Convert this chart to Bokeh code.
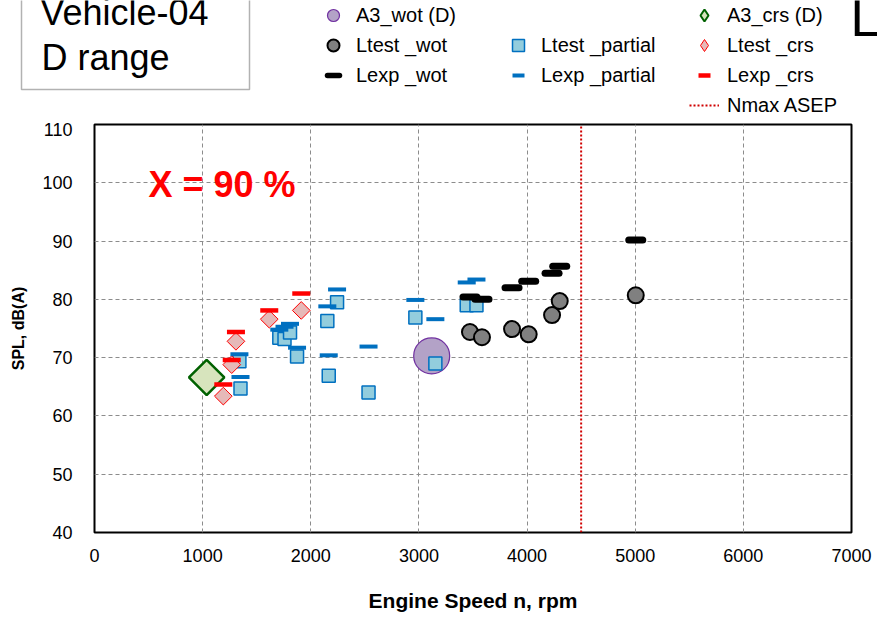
import numpy as np
from bokeh.plotting import figure
from bokeh.layouts import column
from bokeh.models import Range1d, FixedTicker, Legend, LegendItem, Label, BoxAnnotation, Plot
from bokeh.embed import file_html
from bokeh.resources import INLINE

# ---- measured values (engine speed in rpm, SPL in dB(A)) ----
rpm_a3_wot = [3118]
spl_a3_wot = [70.3]

rpm_a3_crs = [1037]
spl_a3_crs = [66.6]

rpm_wot = [3472, 3583, 3861, 4015, 4231, 4302, 5005]
ltest_wot = [74.4, 73.5, 74.9, 74.0, 77.3, 79.7, 80.7]
lexp_wot = [80.4, 80.0, 82.0, 83.1, 84.5, 85.7, 90.2]

rpm_partial = [1350, 1340, 1709, 1757, 1808, 1873, 2153, 2243, 2166, 2534, 2967, 3152, 3442, 3532]
ltest_partial = [64.7, 69.4, 73.4, 73.2, 74.3, 70.2, 76.3, 79.5, 66.9, 64.0, 76.9, 69.0, 79.0, 79.0]
lexp_partial = [66.7, 70.6, 74.8, 75.3, 75.8, 71.7, 78.8, 81.7, 70.4, 71.9, 79.9, 76.6, 82.9, 83.4]

rpm_crs = [1191, 1269, 1308, 1616, 1912]
ltest_crs = [63.4, 68.8, 72.8, 76.6, 78.1]
lexp_crs = [65.4, 69.6, 74.4, 78.1, 81.0]

nmax_asep = 4500

x_ticks = [0, 1000, 2000, 3000, 4000, 5000, 6000, 7000]
y_ticks = [40, 50, 60, 70, 80, 90, 100, 110]

FONT = "Liberation Sans"
X_MIN, X_MAX = x_ticks[0], x_ticks[-1]
Y_MIN, Y_MAX = y_ticks[0], y_ticks[-1]

W, H = 877, 620
HEAD_H = 122
B_LEFT, B_RIGHT, B_TOP, B_BOTTOM = 94, 26, 2, 88
FRAME_BOTTOM = H - HEAD_H - B_BOTTOM

# series styles, shared by the chart and the legend band
STYLE = {
    "a3_wot": dict(marker="circle", size=36, fill_color="#b3a2c7",
                   line_color="#7030a0", line_width=1.2),
    "a3_crs": dict(marker="square", angle=np.pi / 4, size=25, fill_color="#d7e4bd",
                   line_color="#006100", line_width=2.5),
    "ltest_wot": dict(marker="circle", size=16, fill_color="#808080",
                      line_color="black", line_width=2),
    "ltest_partial": dict(marker="square", size=13, fill_color="#93cddd",
                          line_color="#0070c0", line_width=1.5),
    "ltest_crs": dict(marker="square", angle=np.pi / 4, size=12.5, fill_color="#e6b9b8",
                      line_color="#ff0000", line_width=1),
    "lexp_wot": dict(marker="dash", size=14, line_color="black", line_width=7,
                     line_cap="round"),
    "lexp_partial": dict(marker="dash", size=18, line_color="#0070c0", line_width=4),
    "lexp_crs": dict(marker="dash", size=18, line_color="#ff0000", line_width=4.5),
}
NMAX_STYLE = dict(line_color="#d00000", line_width=2, line_dash="2 2")

# legend swatches are drawn unrotated, so the diamonds use the diamond marker there
LEGEND_OVERRIDES = {
    "a3_crs": dict(marker="diamond", angle=0, line_width=2),
    "ltest_crs": dict(marker="diamond", angle=0),
    "lexp_wot": dict(line_width=5.5),
}

SERIES = {
    "a3_wot": (rpm_a3_wot, spl_a3_wot),
    "a3_crs": (rpm_a3_crs, spl_a3_crs),
    "ltest_wot": (rpm_wot, ltest_wot),
    "ltest_partial": (rpm_partial, ltest_partial),
    "ltest_crs": (rpm_crs, ltest_crs),
    "lexp_wot": (rpm_wot, lexp_wot),
    "lexp_partial": (rpm_partial, lexp_partial),
    "lexp_crs": (rpm_crs, lexp_crs),
}
DRAW_ORDER = ["a3_wot", "a3_crs", "nmax", "ltest_wot", "ltest_partial", "ltest_crs",
              "lexp_wot", "lexp_partial", "lexp_crs"]


def draw_series(fig, overrides=None):
    overrides = overrides or {}
    out = {}
    for key in DRAW_ORDER:
        if key == "nmax":
            out[key] = fig.line([nmax_asep, nmax_asep], [Y_MIN, Y_MAX], **NMAX_STYLE)
        else:
            xs, ys = SERIES[key]
            style = {**STYLE[key], **overrides.get(key, {})}
            out[key] = fig.scatter(xs, ys, **style)
    return out


can_unalign = "frame_align" in Plot.properties()

# ---------------- main chart ----------------
p = figure(
    width=W, height=H - HEAD_H,
    x_range=Range1d(X_MIN, X_MAX), y_range=Range1d(Y_MIN, Y_MAX),
    output_backend="svg", toolbar_location=None, title=None,
    min_border_left=B_LEFT, min_border_right=B_RIGHT,
    min_border_top=B_TOP, min_border_bottom=B_BOTTOM,
)
p.background_fill_color = "white"
p.border_fill_color = "white"
p.outline_line_color = "black"
p.outline_line_width = 2
if can_unalign:
    p.frame_align = False

p.xaxis.ticker = FixedTicker(ticks=x_ticks)
p.yaxis.ticker = FixedTicker(ticks=y_ticks)
for ax in (p.xaxis[0], p.yaxis[0]):
    ax.axis_line_color = None
    ax.major_tick_line_color = None
    ax.minor_tick_line_color = None
    ax.major_label_text_font = FONT
    ax.major_label_text_font_size = "18px"
    ax.major_label_text_color = "black"
    ax.axis_label_text_font = FONT
    ax.axis_label_text_font_style = "bold"
    ax.axis_label_text_color = "black"
p.xaxis.axis_label = "Engine Speed n, rpm"
p.yaxis.axis_label = "SPL, dB(A)"
p.xaxis.axis_label_text_font_size = "21px"
p.yaxis.axis_label_text_font_size = "16px"
p.yaxis.major_label_standoff = 16
p.yaxis.axis_label_standoff = 12
p.xaxis.major_label_standoff = 10
p.xaxis.axis_label_standoff = 24

p.xgrid.ticker = FixedTicker(ticks=x_ticks[1:-1])
p.ygrid.ticker = FixedTicker(ticks=y_ticks[1:-1])
for g in (p.xgrid[0], p.ygrid[0]):
    g.grid_line_color = "#8c8c8c"
    g.grid_line_dash = "4 3"
    g.grid_line_width = 1

draw_series(p)

# alphabetic baselines render about a third of an em low; lift them back
p.add_layout(Label(x=148 - B_LEFT, y=FRAME_BOTTOM - (197 - HEAD_H) + 0.35 * 36,
                   x_units="screen", y_units="screen", text="X = 90 %",
                   text_font=FONT, text_font_size="36px", text_font_style="bold",
                   text_color="#ff0000", text_baseline="alphabetic"))

# ---------------- band above the chart: title box and legend ----------------
head = figure(
    width=W, height=HEAD_H, x_range=Range1d(-2, -1), y_range=Range1d(-2, -1),
    x_axis_type=None, y_axis_type=None, output_backend="svg",
    toolbar_location=None, title=None, min_border=0,
)
head.outline_line_color = None
head.background_fill_color = "white"
head.border_fill_color = "white"
head.grid.visible = False
if can_unalign:
    head.frame_align = False

# the same series, kept outside the band's view, feed the legend swatches
legend_r = draw_series(head, LEGEND_OVERRIDES)

ROW = 30


def make_legend(entries, left_px, top_px):
    n = len(entries)
    leg = Legend(
        items=[LegendItem(label=lab, renderers=[legend_r[k]]) for lab, k in entries],
        location=(left_px, HEAD_H - (top_px + n * ROW)),
        orientation="vertical",
        glyph_width=30, glyph_height=ROW, label_height=ROW, spacing=0,
        label_standoff=8, padding=0, margin=0,
        border_line_color=None, background_fill_alpha=0,
        label_text_font=FONT, label_text_font_size="20px", label_text_color="black",
    )
    head.add_layout(leg, "center")


make_legend([("A3_wot (D)", "a3_wot"), ("Ltest _wot", "ltest_wot"),
             ("Lexp _wot", "lexp_wot")], 318, 0)
make_legend([("Ltest _partial", "ltest_partial"),
             ("Lexp _partial", "lexp_partial")], 503, ROW)
make_legend([("A3_crs (D)", "a3_crs"), ("Ltest _crs", "ltest_crs"),
             ("Lexp _crs", "lexp_crs"), ("Nmax ASEP", "nmax")], 689, 0)


def head_text(txt, left_px, base_px, size):
    head.add_layout(Label(x=left_px, y=HEAD_H - base_px + 0.35 * size,
                          x_units="screen", y_units="screen", text=txt,
                          text_font=FONT, text_font_size=f"{size}px",
                          text_color="black", text_baseline="alphabetic"))


head.add_layout(BoxAnnotation(left=21, right=249, bottom=HEAD_H - 89, top=HEAD_H + 20,
                              left_units="screen", right_units="screen",
                              bottom_units="screen", top_units="screen",
                              fill_color="white", fill_alpha=1,
                              line_color="black", line_width=1.5))
head_text("Vehicle-04", 40, 25, 36)
head_text("D range", 41, 70, 36)
head_text("L", 850, 36, 52)

page = column(head, p, spacing=0)
open("out.html", "w").write(file_html(page, INLINE))
